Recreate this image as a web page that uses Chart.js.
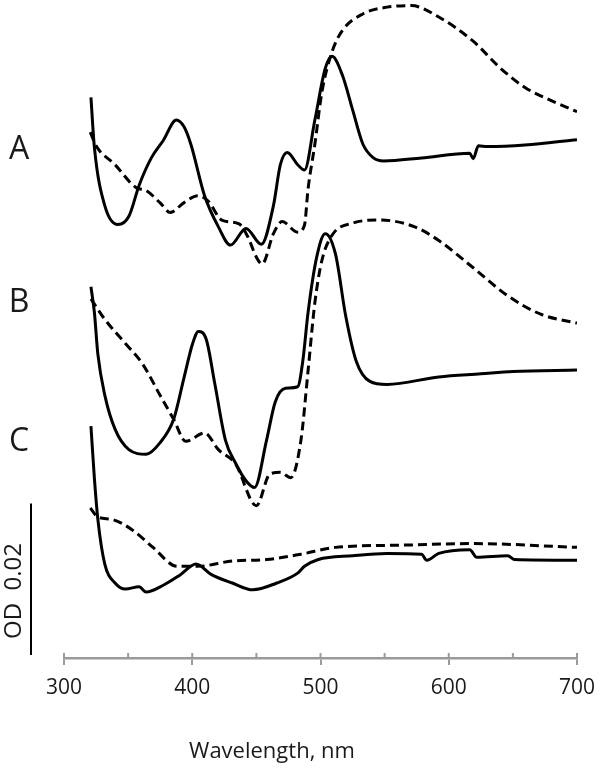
<!DOCTYPE html>
<html>
<head>
<meta charset="utf-8">
<script src="https://cdn.jsdelivr.net/npm/chart.js@4"></script>
<style>
  html, body { margin: 0; padding: 0; background: #fff; }
  #wrap { width: 600px; height: 775px; }
</style>
</head>
<body>
<div id="wrap"><canvas id="spectra"></canvas></div>
<script>
/* ---- data (absorbance in mOD, traces stacked with offsets) ---- */
const aSolidNm  = [321, 323.7, 331.8, 342, 350.6, 358.6, 368.1, 377.4, 387.6, 393.6, 398.9, 409.6, 420.4, 429.8, 441.9, 453.9, 463.3, 468.7, 474.1, 482.2, 487.5, 495.6, 503.7, 509, 517.1, 525.1, 533.1, 541.3, 549.3, 578.8, 616.4, 619.1, 623.1, 630, 659.4, 700];
const aSolidOD  = [74.0, 67.4, 59.7, 57.2, 58.3, 62.4, 66.0, 68.3, 71.0, 70.1, 67.8, 61.0, 56.9, 54.5, 56.7, 54.6, 59.7, 65.1, 66.7, 65.1, 64.4, 71.0, 77.8, 79.4, 76.9, 72.3, 67.8, 66.0, 65.6, 66.0, 66.6, 65.9, 67.6, 67.5, 67.7, 68.4];

const aDashNm   = [320.5, 325, 339.8, 356, 364, 374.8, 382.8, 393.6, 404.3, 412.4, 423, 436.5, 443.3, 450, 454.5, 463.3, 470.1, 482.2, 487.5, 490.3, 495.6, 501, 509, 517, 533, 551.9, 570.7, 592.2, 619, 640.6, 659.4, 680.8, 700];
const aDashOD   = [69.4, 67.6, 65.1, 62.1, 61.7, 60.1, 58.8, 60.1, 61.0, 60.3, 57.8, 57.3, 55.6, 52.9, 52.0, 56.0, 57.6, 56.2, 57.1, 61.9, 67.8, 74.6, 80.0, 82.8, 85.0, 85.9, 86.1, 84.6, 81.4, 77.8, 75.3, 73.5, 72.1];

const bSolidNm  = [321, 323.7, 326.4, 331.8, 339.8, 350.6, 364, 374.8, 385.5, 393.6, 400.3, 404.8, 411, 417.7, 425.8, 433.8, 441.9, 448.6, 458, 464.7, 472.7, 482.2, 486.2, 490.3, 496.9, 503.7, 511.7, 519.7, 527.8, 538.5, 551.9, 592.2, 625, 650, 700];
const bSolidOD  = [49.0, 45.6, 40.1, 34.7, 30.2, 27.5, 26.9, 28.4, 31.5, 37.0, 41.5, 43.1, 42.0, 36.1, 28.8, 25.7, 23.4, 22.5, 28.8, 33.8, 35.6, 35.8, 39.2, 45.6, 52.8, 56.0, 53.3, 45.1, 39.2, 36.5, 36.1, 37.1, 37.5, 37.8, 38.0];

const bDashNm   = [321, 331.8, 347.9, 361.3, 374.8, 385.5, 394.9, 409.6, 420.4, 433.8, 450, 460.6, 468.7, 476.8, 484.8, 490.3, 495.6, 501, 509, 525.1, 546.6, 573.5, 592.2, 619.1, 646, 672.8, 700];
const bDashOD   = [47.4, 44.7, 41.5, 38.8, 34.7, 31.5, 28.6, 29.7, 27.5, 25.6, 20.1, 24.3, 24.5, 23.8, 28.8, 37.9, 46.9, 52.4, 55.8, 57.4, 57.8, 56.9, 55.1, 51.5, 47.8, 45.3, 44.2];

const cSolidNm  = [321, 323.7, 326.4, 331.8, 339.8, 347.9, 358.6, 364, 377.4, 390.8, 402.9, 415, 431.2, 447.2, 466, 482.2, 487.5, 498.3, 525.1, 551.9, 578.8, 582.8, 592.2, 616.4, 621.8, 646, 651.3, 700];
const cSolidOD  = [30.6, 23.7, 18.3, 12.4, 9.9, 9.1, 9.4, 8.7, 9.6, 11.0, 12.4, 11.0, 9.9, 9.0, 9.9, 11.2, 12.1, 13.0, 13.5, 13.8, 13.7, 12.9, 13.8, 14.3, 13.3, 13.5, 13.0, 12.9];

const cDashNm   = [320.5, 326.4, 337.2, 353.3, 369.4, 388.2, 404.3, 431.2, 458, 484.8, 511.7, 565.4, 619.1, 700];
const cDashOD   = [19.8, 18.6, 18.3, 16.9, 14.6, 12.1, 12.1, 12.8, 13.0, 13.7, 14.6, 14.9, 15.1, 14.6];

const xTicks = [300, 400, 500, 600, 700];
const traceLabels = [['A', 150], ['B', 303], ['C', 442]];
const scaleBarOD = [0.4, 20.4];   // 0.02 OD bar

function pts(nm, od) { return nm.map((x, i) => ({ x: x, y: od[i] })); }

function trace(nm, od, dashed) {
  return {
    data: pts(nm, od),
    borderColor: '#000',
    borderWidth: 3,
    borderDash: dashed ? [9, 5] : [],
    pointRadius: 0,
    cubicInterpolationMode: 'monotone',
    fill: false
  };
}

/* ---- extras: upper tick marks, labels, scale bar, axis title ---- */
const decorations = {
  id: 'decorations',
  afterDraw(chart) {
    const ctx = chart.ctx;
    const xs = chart.scales.x;
    const ys = chart.scales.y;
    const bottom = chart.chartArea.bottom;
    ctx.save();

    ctx.strokeStyle = '#9a9a9a';
    ctx.lineWidth = 2;
    xs.ticks.forEach(t => {
      const px = xs.getPixelForValue(t.value);
      ctx.beginPath();
      ctx.moveTo(px, bottom - 5);
      ctx.lineTo(px, bottom);
      ctx.stroke();
    });

    // scale bar
    ctx.strokeStyle = '#000';
    ctx.lineWidth = 2;
    ctx.beginPath();
    ctx.moveTo(31, ys.getPixelForValue(scaleBarOD[0]));
    ctx.lineTo(31, ys.getPixelForValue(scaleBarOD[1]));
    ctx.stroke();

    ctx.fillStyle = '#1a1a1a';
    ctx.textAlign = 'center';
    ctx.textBaseline = 'middle';

    ctx.font = "32px 'Open Sans', sans-serif";
    traceLabels.forEach(([t, y]) => ctx.fillText(t, 19, y));

    ctx.save();
    ctx.translate(14, 591);
    ctx.rotate(-Math.PI / 2);
    ctx.font = "24px 'Open Sans', sans-serif";
    ctx.fillText('OD  0.02', 0, 0);
    ctx.restore();

    ctx.font = "22px 'Open Sans', sans-serif";
    ctx.fillText('Wavelength, nm', 272, 752);

    ctx.restore();
  }
};

Chart.defaults.font.family = "'Open Sans', 'Noto Sans', sans-serif";

new Chart(document.getElementById('spectra'), {
  type: 'line',
  data: {
    datasets: [
      trace(aSolidNm, aSolidOD, false),
      trace(aDashNm, aDashOD, true),
      trace(bSolidNm, bSolidOD, false),
      trace(bDashNm, bDashOD, true),
      trace(cSolidNm, cSolidOD, false),
      trace(cDashNm, cDashOD, true)
    ]
  },
  options: {
    responsive: true,
    maintainAspectRatio: false,
    animation: false,
    layout: { padding: { left: 64, right: 23, top: 0, bottom: 0 } },
    plugins: {
      legend: { display: false },
      tooltip: { enabled: false }
    },
    scales: {
      x: {
        type: 'linear',
        min: 300,
        max: 700,
        afterFit: s => { s.height = 117; s.paddingLeft = 0; s.paddingRight = 0; },
        border: { display: true, color: '#9a9a9a', width: 2.5 },
        grid: {
          drawOnChartArea: false,
          drawTicks: true,
          tickLength: 7,
          color: c => (c.tick && xTicks.includes(c.tick.value)) ? '#9a9a9a' : 'rgba(0,0,0,0)',
          lineWidth: 2
        },
        ticks: {
          stepSize: 50,
          autoSkip: false,
          maxRotation: 0,
          padding: 10,
          color: '#1a1a1a',
          font: { size: 21 },
          callback: v => xTicks.includes(v) ? String(v) : ''
        }
      },
      y: {
        display: false,
        min: 0,
        max: 86.84
      }
    }
  },
  plugins: [decorations]
});
</script>
</body>
</html>
